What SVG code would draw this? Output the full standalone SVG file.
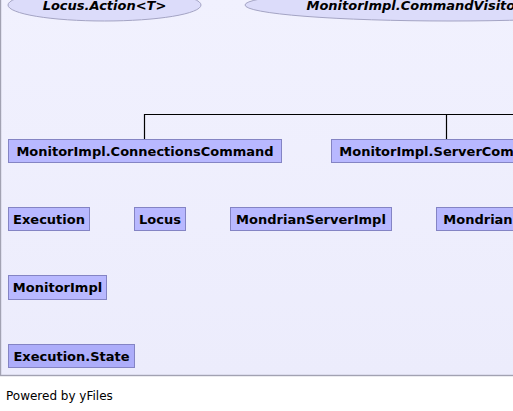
<svg xmlns="http://www.w3.org/2000/svg" width="513" height="411" viewBox="0 0 513 411">
<defs>
<linearGradient id="bg" x1="0" y1="0" x2="0" y2="1">
<stop offset="0" stop-color="#f1f1fe"/>
<stop offset="1" stop-color="#ececfc"/>
</linearGradient>
<style>
.node rect{fill:#b8b8ff;stroke:#8484c4;stroke-width:1}
.node text{font-family:"DejaVu Sans",sans-serif;font-weight:bold;font-size:13px;fill:#000}
.iface ellipse{fill:#dcdcfa;stroke:#a4a4c4;stroke-width:1}
.iface text{font-family:"DejaVu Sans",sans-serif;font-weight:bold;font-style:italic;font-size:13px;fill:#000}
.edge{fill:none;stroke:#000;stroke-width:1.2}
</style>
</defs>
<rect x="0" y="0" width="513" height="411" fill="#ffffff"/>
<rect x="0.5" y="-2" width="520" height="377.5" fill="url(#bg)" stroke="#a2a2b2" stroke-width="1.4"/>
<g id="n-locus-action" class="iface">
<ellipse cx="104.5" cy="5" rx="96.5" ry="16"/>
<text x="104.5" y="10" text-anchor="middle">Locus.Action&lt;T&gt;</text>
</g>
<g id="n-command-visitor" class="iface">
<ellipse cx="450" cy="5" rx="205" ry="16"/>
<text x="306.5" y="10">MonitorImpl.CommandVisito</text>
</g>
<g id="edges">
<path class="edge" d="M144.5 139.5 V114.5 H514"/>
<path class="edge" d="M446.5 139.5 V114.5"/>
</g>
<g id="n-connections-command" class="node">
<rect x="8.5" y="139.5" width="273" height="23"/>
<text x="145" y="156" text-anchor="middle">MonitorImpl.ConnectionsCommand</text>
</g>
<g id="n-server-command" class="node">
<rect x="331.5" y="139.5" width="200" height="23"/>
<text x="339.3" y="156">MonitorImpl.ServerCom</text>
</g>
<g id="n-execution" class="node">
<rect x="8.5" y="207.5" width="81" height="23"/>
<text x="49" y="224" text-anchor="middle">Execution</text>
</g>
<g id="n-locus" class="node">
<rect x="134.5" y="207.5" width="51" height="23"/>
<text x="160" y="224" text-anchor="middle">Locus</text>
</g>
<g id="n-mondrian-server-impl" class="node">
<rect x="230.5" y="207.5" width="161" height="23"/>
<text x="311" y="224" text-anchor="middle">MondrianServerImpl</text>
</g>
<g id="n-mondrian" class="node">
<rect x="436.5" y="207.5" width="100" height="23"/>
<text x="443.3" y="224">Mondrian</text>
</g>
<g id="n-monitor-impl" class="node">
<rect x="8.5" y="275.5" width="98" height="24"/>
<text x="57.5" y="292" text-anchor="middle">MonitorImpl</text>
</g>
<g id="n-execution-state" class="node">
<rect x="8.5" y="344.5" width="126" height="23" style="fill:#adadfa"/>
<text x="71.5" y="361" text-anchor="middle">Execution.State</text>
</g>
<text x="6" y="400" font-family="DejaVu Sans, sans-serif" font-size="12" fill="#000">Powered by yFiles</text>
</svg>
